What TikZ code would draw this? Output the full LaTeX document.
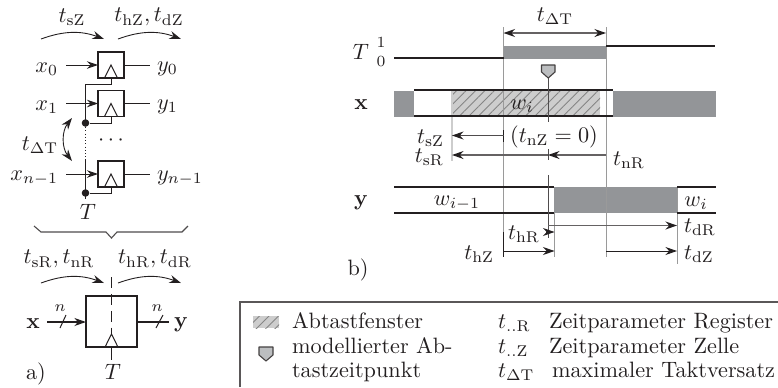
\documentclass[tikz,border=0pt]{standalone}
\usetikzlibrary{arrows.meta,patterns.meta}
\definecolor{busgray}{HTML}{939598}
\definecolor{guide}{HTML}{9A9A9A}
\definecolor{ink}{HTML}{231F20}
\definecolor{hatchbg}{HTML}{CDCDCD}
\definecolor{hatchln}{HTML}{858585}
\definecolor{mark}{HTML}{BCBEC0}
\tikzset{
  ink line/.style={draw=ink,line width=0.45pt},
  lbl/.style={inner sep=0pt,outer sep=0pt,text=ink},
  ffbox/.style={draw=ink,line width=0.8pt,minimum size=11.7pt,inner sep=0pt,outer sep=0pt},
  regbox/.style={draw=ink,line width=1pt,minimum size=23pt,inner sep=0pt,outer sep=0pt},
  tip/.style={-{Stealth[length=5.2pt,width=3.6pt,color=ink]}},
  tips/.style={{Stealth[length=5.2pt,width=3.6pt,color=ink]}-{Stealth[length=5.2pt,width=3.6pt,color=ink]}},
  sig/.style={draw=ink,line width=0.9pt},
  bus/.style={fill=busgray,draw=none},
  guideline/.style={draw=guide,line width=0.45pt},
  dim/.style={draw=ink,line width=0.4pt,tip},
  dimgray/.style={draw=ink!70,line width=0.6pt,tip},
  hatched/.style={pattern={Lines[angle=45,distance=3pt,line width=0.4pt]},pattern color=hatchln},
  dotnode/.style={circle,fill=ink,draw=none,minimum size=3.4pt,inner sep=0pt},
}
\begin{document}
\begin{tikzpicture}[x=0.45pt,y=-0.45pt]
\useasboundingbox (0,0) rectangle (778,387);

% --- part a): flip-flops
\node[ffbox] (f0) at (111,65) {};
\node[ffbox] (f1) at (111,103.5) {};
\node[ffbox] (f2) at (111,174) {};
\foreach \n in {f0,f1,f2}{
  \draw[ink line] ([xshift=-2.9pt]\n.south) -- ([yshift=5.9pt]\n.south) -- ([xshift=2.9pt]\n.south);
}
\node[lbl,anchor=east] (x0) at (58,69) {$x_0$};
\node[lbl,anchor=east] (x1) at (58,107) {$x_1$};
\node[lbl,anchor=east] (x2) at (58,178) {$x_{n-1}$};
\node[lbl,anchor=west] (y0) at (157,69) {$y_0$};
\node[lbl,anchor=west] (y1) at (157,107) {$y_1$};
\node[lbl,anchor=west] (y2) at (157,178) {$y_{n-1}$};
\foreach \i/\yy in {0/65,1/103.5,2/174}{
  \coordinate (xs\i) at (66,\yy);
  \coordinate (ys\i) at (150,\yy);
  \draw[ink line,-{Stealth[length=5pt,width=3.4pt]}] (xs\i) -- (f\i.west);
  \draw[ink line] (f\i.east) -- (ys\i);
}
\coordinate (c0) at (85.5,84);
\node[dotnode] (d1) at (85.5,123) {};
\node[dotnode] (d2) at (85.5,193) {};
\coordinate (c3) at (85.5,199);
\draw[ink line] (f0.south) -- (111,84) -- (c0) -- (85.5,122);
\draw[ink line] (d1) -- (111,123) -- (f1.south);
\draw[ink line] (d2) -- (111,193) -- (f2.south);
\draw[ink line,densely dotted] (d1) -- (85.5,160);
\draw[ink line] (85.5,160) -- (c3);
\node[lbl] (dots) at (111,141) {$\cdots$};
\node[lbl] (Tff) at (88,212) {$T$};
\node[lbl] (tsZ) at (72,17) {$t_{\mathrm{sZ}}$};
\node[lbl] (thdZ) at (149,17) {$t_{\mathrm{hZ}},t_{\mathrm{dZ}}$};
\coordinate (a1) at (41,39); \coordinate (a2) at (104,39);
\coordinate (a3) at (118,39); \coordinate (a4) at (181,39);
\draw[dim] (a1) to[bend left=20] (a2);
\draw[dim] (a3) to[bend left=20] (a4);
\node[lbl] (tdT) at (40,145) {$t_{\Delta\mathrm{T}}$};
\coordinate (b1) at (72,118); \coordinate (b2) at (72,161);
\draw[draw=ink,line width=0.4pt,tips] (b1) to[bend right=38] (b2);

% brace
\draw[draw=ink!80,line width=0.5pt] (34,226) -- (41,232) -- (106,232) -- (111.5,238) -- (117,232) -- (182,232) -- (188,226);

% register
\node[lbl] (tsnR) at (59,259) {$t_{\mathrm{sR}},t_{\mathrm{nR}}$};
\node[lbl] (thdR) at (155,259) {$t_{\mathrm{hR}},t_{\mathrm{dR}}$};
\coordinate (a5) at (41,283); \coordinate (a6) at (104,283);
\coordinate (a7) at (118,283); \coordinate (a8) at (181,283);
\draw[dim] (a5) to[bend left=20] (a6);
\draw[dim] (a7) to[bend left=20] (a8);
\node[regbox] (reg) at (111.5,321.5) {};
\coordinate (dash1) at (111.5,277); \coordinate (dash2) at (111.5,335); \coordinate (dash3) at (111.5,360);
\draw[ink line,dashed,dash pattern=on 5pt off 2.6pt] (dash1) -- (dash2);
\draw[ink line] (reg.south) -- (dash3);
\draw[ink line] ([xshift=-2.9pt]reg.south) -- ([yshift=5.9pt]reg.south) -- ([xshift=2.9pt]reg.south);
\node[lbl] (bx) at (33,323.5) {$\mathbf{x}$};
\node[lbl] (by) at (181,325) {$\mathbf{y}$};
\node[lbl] (Treg) at (113,372) {$T$};
\node[lbl] (nl) at (60,308) {$\scriptstyle n$};
\node[lbl] (nr) at (157,308) {$\scriptstyle n$};
\coordinate (xin) at (47,322); \coordinate (yout) at (169,322);
\draw[draw=ink,line width=0.8pt,-{Stealth[length=5.2pt,width=3.6pt]}] (xin) -- (reg.west |- xin);
\draw[draw=ink,line width=0.8pt] (reg.east |- yout) -- (yout);
\draw[ink line] (60,328) -- (66,315);
\draw[ink line] (156,328) -- (163,315);
\node[lbl] (la) at (36,374) {a)};

% --- part b): guide lines
\coordinate (g1) at (503.5,27); \coordinate (g1b) at (503.5,257);
\coordinate (g2) at (606,27); \coordinate (g2b) at (606,257);
\coordinate (g3) at (452,91); \coordinate (g3b) at (452,161);
\coordinate (g4) at (554.5,213); \coordinate (g4b) at (554.5,257);
\coordinate (g5) at (677,187); \coordinate (g5b) at (677,264);

% buses
\fill[bus] (503.5,46) rectangle (606,59);
\fill[bus] (394,91) rectangle (414,117);
\fill[bus] (613,91) rectangle (716,117);
\fill[hatchbg] (452,91) rectangle (600,116);
\fill[hatched] (452,91) rectangle (600,116);
\fill[bus] (554,187) rectangle (677,213);

\draw[guideline] (g1) -- (g1b);
\draw[guideline] (g2) -- (g2b);
\draw[draw=hatchbg,line width=0.6pt] (g3) -- (g3b);
\draw[guideline] (g4) -- (g4b);
\draw[guideline] (g5) -- (g5b);

% signals
\draw[sig] (394,58) -- (503.5,58);
\draw[sig] (606,46) -- (715,46);
\draw[sig] (414,90) -- (612.5,90);
\draw[sig] (414,116) -- (612.5,116);
\draw[sig] (394,187) -- (554,187);
\draw[sig] (394,213) -- (554,213);
\draw[sig] (677,187) -- (716,187);
\draw[sig] (677,213) -- (716,213);

% sample marker
\draw[draw=ink!80,line width=0.4pt] (548,78) -- (548,122);
\draw[draw=ink!80,line width=0.4pt] (548,149) -- (548,160);
\draw[draw=ink!80,line width=0.4pt] (548,175) -- (548,238);
\draw[draw=ink!85,fill=mark,line width=0.5pt,line join=round] (541.5,65) -- (555,65) -- (555,72) -- (548.2,78) -- (541.5,72) -- cycle;

% signal labels
\node[lbl] (Tl) at (361,52) {$T$};
\node[lbl] (one) at (381,42) {$\scriptstyle 1$};
\node[lbl] (zero) at (381,61) {$\scriptstyle 0$};
\node[lbl] (xl) at (361,105) {$\mathbf{x}$};
\node[lbl] (yl) at (361,203) {$\mathbf{y}$};
\node[lbl] (wi) at (522,106) {$w_i$};
\node[lbl] (wim) at (457,203) {$w_{i-1}$};
\node[lbl] (wi2) at (696,203) {$w_i$};
\node[lbl] (tdTb) at (555,16) {$t_{\Delta\mathrm{T}}$};

% dimensions
\draw[draw=ink!70,line width=0.6pt,tips] (g1 |- 0,33) -- (g2 |- 0,33);
\coordinate (tz) at (503.5,135.5);
\draw[draw=ink,line width=0.5pt] (503.5,130) -- (503.5,142);
\draw[draw=ink!80,line width=0.5pt,tip] (tz) -- (g3 |- tz);
\node[lbl,anchor=east] (tsZb) at (444,138) {$t_{\mathrm{sZ}}$};
\node[lbl,anchor=east] (tsRb) at (444,157) {$t_{\mathrm{sR}}$};
\node[lbl] (tnZ) at (554,137) {$(t_{\mathrm{nZ}}=0)$};
\node[lbl,anchor=west] (tnR) at (613,160) {$t_{\mathrm{nR}}$};
\coordinate (sr) at (548,155);
\draw[dimgray] (sr) -- (g3 |- sr);
\draw[dimgray] (g2 |- sr) -- (sr);
\coordinate (dr) at (548,225.5);
\draw[dimgray] (dr) -- (g5 |- dr);
\node[lbl,anchor=west] (tdR) at (684,227) {$t_{\mathrm{dR}}$};
\node[lbl] (thRb) at (524,234) {$t_{\mathrm{hR}}$};
\coordinate (hr) at (546,232);
\draw[draw=ink,line width=0.4pt,tip] (hr) -- (g4 |- hr);
\draw[draw=ink,line width=0.5pt] (503.5,232) -- (503.5,257);
\node[lbl,anchor=east] (thZb) at (494,254) {$t_{\mathrm{hZ}}$};
\coordinate (hz) at (503.5,251);
\draw[dim] (hz) -- (g4 |- hz);
\draw[dim] (g2 |- hz) -- (g5 |- hz);
\node[lbl,anchor=west] (tdZ) at (684,254) {$t_{\mathrm{dZ}}$};
\node[lbl] (lb) at (358,270) {b)};

% --- legend
\coordinate (fr1) at (240,387); \coordinate (fr2) at (240,302); \coordinate (fr3) at (778,302);
\draw[draw=ink!75,line width=0.5pt] (fr1) -- (fr2) -- (fr3);
\fill[hatchbg] (253,316) rectangle (279,328);
\fill[hatched] (253,316) rectangle (279,328);
\draw[draw=ink!85,fill=mark,line width=0.5pt,line join=round] (259,347) -- (273,347) -- (273,355) -- (266,361) -- (259,355) -- cycle;
\node[lbl,anchor=base west] (l1) at (292,328) {Abtastfenster};
\node[lbl,anchor=base west] (l2) at (292,353) {modellierter Ab-};
\node[lbl,anchor=base west] (l3) at (292,377) {tastzeitpunkt};
\node[lbl,anchor=base west] (s1) at (498,328) {$t_{..\mathrm{R}}$};
\node[lbl,anchor=base west] (s2) at (498,353) {$t_{..\mathrm{Z}}$};
\node[lbl,anchor=base west] (s3) at (498,377) {$t_{\Delta\mathrm{T}}$};
\node[lbl,anchor=base west] (r1) at (549,328) {Zeitparameter Register};
\node[lbl,anchor=base west] (r2) at (549,353) {Zeitparameter Zelle};
\node[lbl,anchor=base west] (r3) at (552,377) {maximaler Taktversatz};
\end{tikzpicture}
\end{document}
